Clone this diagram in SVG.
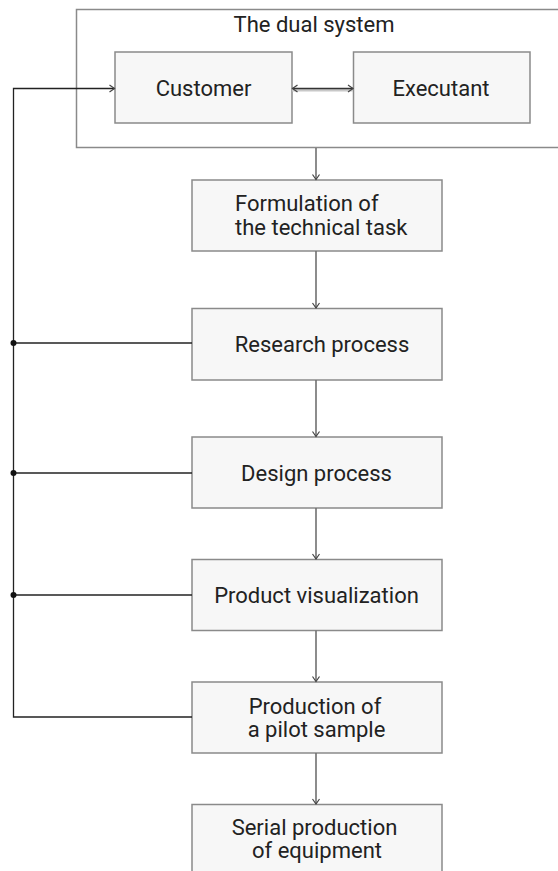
<svg xmlns="http://www.w3.org/2000/svg" width="558" height="871" viewBox="0 0 558 871">
<style>
.box{fill:#f7f7f7;stroke:#8a8a8a;stroke-width:1.5}
.outer{fill:#ffffff;stroke:#8a8a8a;stroke-width:1.5}
.t{font-family:Roboto,"Liberation Sans",sans-serif;font-size:22px;fill:#222}
.m{text-anchor:middle}
.flow{fill:none;stroke:#707070;stroke-width:1.6}
.fb{fill:none;stroke:#222;stroke-width:1.3}
</style>
<defs>
<marker id="ah" markerUnits="userSpaceOnUse" markerWidth="10" markerHeight="10" viewBox="0 0 10 10" refX="8" refY="5" orient="auto-start-reverse">
<path d="M3,1.5 L8,5 L3,8.5" fill="none" stroke="#444" stroke-width="1.2"/>
</marker>
</defs>
<rect width="558" height="871" fill="#ffffff"/>
<g id="dual-system">
<rect class="outer" x="76.5" y="9.5" width="490" height="138"/>
<text class="t m" x="314" y="32">The dual system</text>
</g>
<g id="customer">
<rect class="box" x="115" y="52" width="177" height="71"/>
<text class="t m" x="203.5" y="96">Customer</text>
</g>
<g id="executant">
<rect class="box" x="353.5" y="52" width="176.5" height="71"/>
<text class="t m" x="441" y="96">Executant</text>
</g>
<g id="formulation">
<rect class="box" x="192" y="180" width="250" height="71"/>
<text class="t"><tspan x="235" y="210.5">Formulation of</tspan><tspan x="235" y="234.5">the technical task</tspan></text>
</g>
<g id="research">
<rect class="box" x="192" y="308.5" width="250" height="71.5"/>
<text class="t m" x="322" y="351.5">Research process</text>
</g>
<g id="design">
<rect class="box" x="192" y="437" width="250" height="71"/>
<text class="t m" x="316.5" y="481">Design process</text>
</g>
<g id="visualization">
<rect class="box" x="192" y="559.5" width="250" height="71"/>
<text class="t m" x="316.5" y="602.5">Product visualization</text>
</g>
<g id="pilot">
<rect class="box" x="192" y="682" width="250" height="71"/>
<text class="t m"><tspan x="315" y="713.5">Production of</tspan><tspan x="316.5" y="736.5">a pilot sample</tspan></text>
</g>
<g id="serial">
<rect class="box" x="192" y="804.5" width="250" height="80"/>
<text class="t m"><tspan x="314.5" y="835">Serial production</tspan><tspan x="317" y="858">of equipment</tspan></text>
</g>
<g id="connectors">
<line class="flow" x1="316" y1="148" x2="316" y2="179.5" marker-end="url(#ah)"/>
<line class="flow" x1="316" y1="251" x2="316" y2="308" marker-end="url(#ah)"/>
<line class="flow" x1="316" y1="380" x2="316" y2="436.5" marker-end="url(#ah)"/>
<line class="flow" x1="316" y1="508" x2="316" y2="559" marker-end="url(#ah)"/>
<line class="flow" x1="316" y1="630.5" x2="316" y2="681.5" marker-end="url(#ah)"/>
<line class="flow" x1="316" y1="753" x2="316" y2="804" marker-end="url(#ah)"/>
<line x1="292" y1="88.5" x2="353" y2="88.5" stroke="#c8c8c8" stroke-width="3" transform="translate(0,1.5)"/>
<line x1="292.5" y1="88.5" x2="353" y2="88.5" stroke="#333" stroke-width="1.6" marker-start="url(#ah)" marker-end="url(#ah)"/>
<polyline class="fb" points="192,717 13.5,717 13.5,88.5 114.5,88.5" marker-end="url(#ah)"/>
<line class="fb" x1="13.5" y1="343" x2="192" y2="343"/>
<line class="fb" x1="13.5" y1="473" x2="192" y2="473"/>
<line class="fb" x1="13.5" y1="595" x2="192" y2="595"/>
<circle cx="13.5" cy="343" r="3" fill="#111"/>
<circle cx="13.5" cy="473" r="3" fill="#111"/>
<circle cx="13.5" cy="595" r="3" fill="#111"/>
</g>
</svg>
